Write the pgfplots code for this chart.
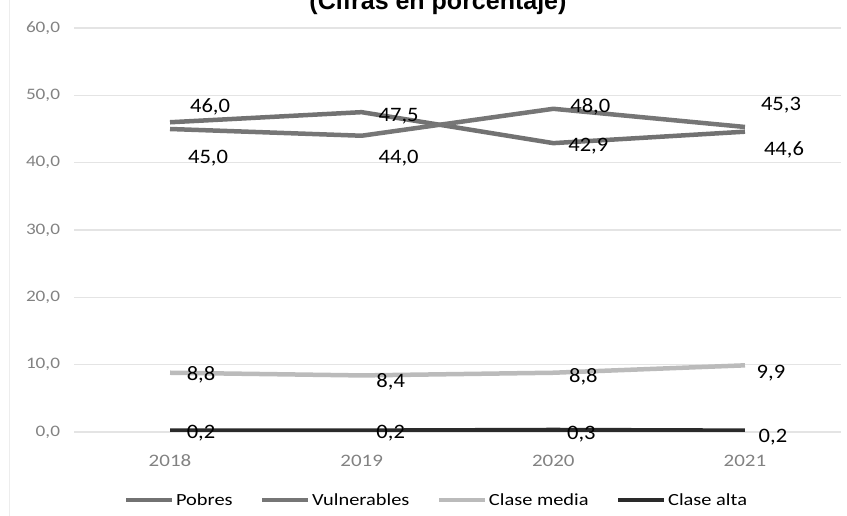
\documentclass[border=0pt]{standalone}
\usepackage{pgfplots}
\usepackage{pgfplotstable}
\usepackage{fontspec}
\pgfplotsset{compat=1.18}
\setmainfont{Carlito}
\newfontfamily\labfont{Carlito}[FakeStretch=1.1]
\newfontfamily\tickfont{Carlito}[FakeStretch=1.2]
\newfontfamily\legfont{Carlito}[FakeStretch=1.2]
\newfontfamily\titfont{Liberation Sans}

\definecolor{gridgray}{HTML}{E4E4E4}
\definecolor{tickgray}{HTML}{828282}
\definecolor{cpobres}{HTML}{727272}
\definecolor{cvuln}{HTML}{767676}
\definecolor{cmedia}{HTML}{BBBBBB}
\definecolor{calta}{HTML}{2A2A2A}

% x = year index, y = share (%), dx/dy = label offset from the point (pt)
\pgfplotstableread{
x y dx dy
0 46.0 40 15
1 47.5 37 -4
2 42.9 35 -3
3 44.6 39 -18
}\pobres
\pgfplotstableread{
x y dx dy
0 45.0 38 -29.5
1 44.0 37 -22
2 48.0 37 2
3 45.3 36 22
}\vulnerables
\pgfplotstableread{
x y dx dy
0 8.8 31 -2
1 8.4 29 -6
2 8.8 30 -4
3 9.9 26 -8
}\media
\pgfplotstableread{
x y dx dy
0 0.2 31 -3
1 0.2 29 -3
2 0.3 28 -4
3 0.2 28 -7
}\alta

\begin{document}
\begin{tikzpicture}[x=1pt,y=1pt]
\useasboundingbox (0,0) rectangle (847,516);
\clip (0,0) rectangle (847,516);
\draw[black!7, line width=1pt] (9,0) -- (9,516);
\node[font={\titfont\bfseries\fontsize{25}{30}\selectfont}, anchor=base] at (438,506.5) {(Cifras en porcentaje)};
\begin{axis}[
  at={(74.2pt,84pt)}, anchor=south west,
  scale only axis, width=766.6pt, height=404pt,
  xmin=-0.5, xmax=3.5, ymin=0, ymax=60,
  axis line style={draw=none},
  tick style={draw=none},
  ytick={0,10,...,60},
  ymajorgrids, grid style={gridgray, line width=1.2pt},
  xtick={0,1,2,3}, xticklabels={2018,2019,2020,2021},
  /pgf/number format/assume math mode=true,
  yticklabel={\pgfmathprintnumber[fixed,fixed zerofill,precision=1,use comma]{\tick}},
  yticklabel style={anchor=east, inner sep=0pt, xshift=-14pt, text=tickgray, font={\tickfont\fontsize{16}{20}\selectfont}},
  xticklabel style={anchor=base, inner sep=0pt, yshift=-35pt, text=tickgray, font={\tickfont\fontsize{17.5}{20}\selectfont}},
  every axis plot/.append style={line width=4.5pt, line join=round},
  visualization depends on={\thisrow{dx}\as\dx},
  visualization depends on={\thisrow{dy}\as\dy},
  nodes near coords={\pgfmathprintnumber[fixed,fixed zerofill,precision=1,use comma]{\pgfplotspointmeta}},
  every node near coord/.append style={anchor=center, inner sep=0pt, text=black, font={\labfont\fontsize{20.5}{24}\selectfont}, xshift=\dx pt, yshift=\dy pt},
  legend columns=4,
  legend style={at={(0.473,-0.1683)}, anchor=center, draw=none, fill=none,
    font={\legfont\fontsize{17}{20}\selectfont}, inner sep=0pt,
    /tikz/every odd column/.append style={column sep=0pt},
    /tikz/every even column/.append style={column sep=26pt}},
  legend cell align=left,
  legend image code/.code={\draw[#1, line width=3.5pt] (0pt,0pt) -- (46pt,0pt);},
]
\addplot[cpobres, mark=none] table[x=x,y=y] {\pobres};
\addlegendentry{Pobres}
\addplot[cvuln, mark=none] table[x=x,y=y] {\vulnerables};
\addlegendentry{Vulnerables}
\addplot[cmedia, mark=none] table[x=x,y=y] {\media};
\addlegendentry{Clase media}
\addplot[calta, mark=none] table[x=x,y=y] {\alta};
\addlegendentry{Clase alta}
\end{axis}
\end{tikzpicture}
\end{document}
